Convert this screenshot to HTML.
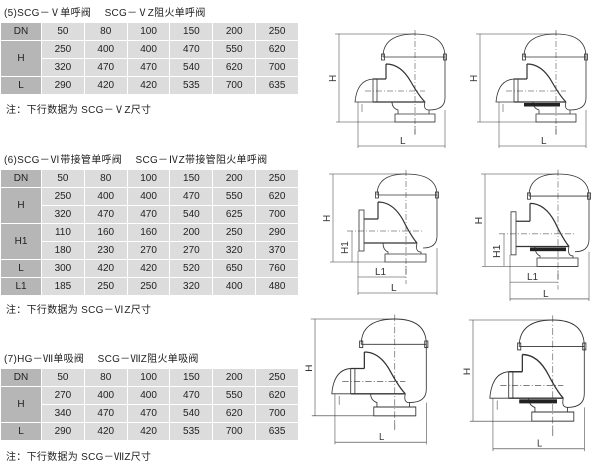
<!DOCTYPE html>
<html><head><meta charset="utf-8"><style>
body{margin:0;width:600px;height:463px;background:#fff;position:relative;overflow:hidden;font-family:"Liberation Sans","Noto Sans CJK SC",sans-serif;color:#222}
.t{position:absolute;font-size:10px;white-space:nowrap;letter-spacing:0.3px}
table{position:absolute;left:0;border-collapse:collapse;width:299px;table-layout:fixed;font-size:10px}
tr{height:18px}
td{background:#dcdcdc;border:1.5px solid #fff;text-align:center;padding:0;line-height:14px}
td.h{background:#b6b6b6}
col.a{width:41px}
svg{position:absolute;left:0;top:0}
</style></head><body>
<div class="t" style="left:4px;top:4px">(5)SCG－Ⅴ单呼阀　 SCG－ⅤZ阻火单呼阀</div>
<table style="top:22px"><col class="a"><col><col><col><col><col><col>
<tr><td class="h">DN</td><td>50</td><td>80</td><td>100</td><td>150</td><td>200</td><td>250</td></tr>
<tr><td class="h" rowspan="2">H</td><td>250</td><td>400</td><td>400</td><td>470</td><td>550</td><td>620</td></tr>
<tr><td>320</td><td>470</td><td>470</td><td>540</td><td>620</td><td>700</td></tr>
<tr><td class="h">L</td><td>290</td><td>420</td><td>420</td><td>535</td><td>700</td><td>635</td></tr></table>
<div class="t" style="left:6px;top:101px">注：下行数据为 SCG－ⅤZ尺寸</div>

<div class="t" style="left:4px;top:151px">(6)SCG－Ⅵ带接管单呼阀　 SCG－ⅣZ带接管阻火单呼阀</div>
<table style="top:169px"><col class="a"><col><col><col><col><col><col>
<tr><td class="h">DN</td><td>50</td><td>80</td><td>100</td><td>150</td><td>200</td><td>250</td></tr>
<tr><td class="h" rowspan="2">H</td><td>250</td><td>400</td><td>400</td><td>470</td><td>550</td><td>620</td></tr>
<tr><td>320</td><td>470</td><td>470</td><td>540</td><td>625</td><td>700</td></tr>
<tr><td class="h" rowspan="2">H1</td><td>110</td><td>160</td><td>160</td><td>200</td><td>250</td><td>290</td></tr>
<tr><td>180</td><td>230</td><td>270</td><td>270</td><td>320</td><td>370</td></tr>
<tr><td class="h">L</td><td>300</td><td>420</td><td>420</td><td>520</td><td>650</td><td>760</td></tr>
<tr><td class="h">L1</td><td>185</td><td>250</td><td>250</td><td>320</td><td>400</td><td>480</td></tr></table>
<div class="t" style="left:6px;top:301px">注：下行数据为 SCG－ⅥZ尺寸</div>

<div class="t" style="left:4px;top:350px">(7)HG－Ⅶ单吸阀　 SCG－ⅦZ阻火单吸阀</div>
<table style="top:368px"><col class="a"><col><col><col><col><col><col>
<tr><td class="h">DN</td><td>50</td><td>80</td><td>100</td><td>150</td><td>200</td><td>250</td></tr>
<tr><td class="h" rowspan="2">H</td><td>270</td><td>400</td><td>400</td><td>470</td><td>550</td><td>620</td></tr>
<tr><td>340</td><td>470</td><td>470</td><td>540</td><td>620</td><td>700</td></tr>
<tr><td class="h">L</td><td>290</td><td>420</td><td>420</td><td>535</td><td>700</td><td>635</td></tr></table>
<div class="t" style="left:6px;top:448px">注：下行数据为 SCG－ⅦZ尺寸</div>

<svg width="600" height="463" viewBox="0 0 600 463">
<defs>
<g id="A" fill="none" stroke="#333" stroke-width="0.8">
<path d="M-4,0H77M0,0V88M-3,88H96" stroke-width="0.5"/>
<path d="M44,23Q44,0 76,0Q106,0 106,23M44,23H106"/>
<rect x="42.5" y="20" width="3" height="6"/><rect x="104.5" y="20" width="3" height="6"/>
<path d="M106,23V64Q106,76 90,76"/>
<path d="M47,30V45M47,30Q62,30 72,48Q80,62 86,68" stroke-width="1.2"/>
<path d="M34,45H47M34,68H86" stroke-width="1.2"/>
<path d="M34,45Q18,46 16,68H34M34,45V68M38,45V68"/>
<path d="M53,68Q53,74 59,76V80M86,68Q84,76 90,76V80M56,80H96V88H56Z"/>
<path d="M76,-4V101M26,57H86" stroke-dasharray="6,2,1,2" stroke-width="0.5"/>
<path d="M19,68V114M106,76V114M19,112H106M23,70V78M76,92V100" stroke-width="0.5"/>
</g>
<g id="B" fill="none" stroke="#333" stroke-width="0.8">
<path d="M-4,0H73M0,0V88M-3,88H52" stroke-width="0.5"/>
<path d="M44,21Q44,0 73,0Q104,0 104,21M44,21H104"/>
<rect x="42.5" y="18" width="3" height="6"/><rect x="102.5" y="18" width="3" height="6"/>
<path d="M104,21V62Q104,74 90,74"/>
<path d="M45,28V45M45,28Q60,28 70,46Q78,62 84,69" stroke-width="1.2"/>
<path d="M31,45H45M31,69H84" stroke-width="1.2"/>
<rect x="26" y="36" width="5" height="41"/>
<path d="M50,69Q50,76 55,78V80M84,69Q82,78 88,78V80M52,80H93V88H52Z"/>
<path d="M73,-4V110M14,57H90" stroke-dasharray="6,2,1,2" stroke-width="0.5"/>
<path d="M19,57V88M25,77V121M104,74V121M25,103H73M25,119H104M73,92V100" stroke-width="0.5"/>
</g>
</defs>
<g transform="translate(339,34)"><use href="#A"/>
<text x="61" y="110" font-size="10" font-family="Liberation Sans" fill="#333">L</text>
<text transform="translate(-3,48) rotate(-90)" font-size="10" font-family="Liberation Sans" fill="#333">H</text></g>
<g transform="translate(480,34)"><use href="#A"/><rect x="44" y="69" width="36" height="3.5" fill="#222"/>
<text x="61" y="110" font-size="10" font-family="Liberation Sans" fill="#333">L</text>
<text transform="translate(-3,48) rotate(-90)" font-size="10" font-family="Liberation Sans" fill="#333">H</text></g>
<g transform="translate(333,174)"><use href="#B"/>
<text x="42" y="101" font-size="10" font-family="Liberation Sans" fill="#333">L1</text>
<text x="58" y="117" font-size="10" font-family="Liberation Sans" fill="#333">L</text>
<text transform="translate(-3,48) rotate(-90)" font-size="10" font-family="Liberation Sans" fill="#333">H</text>
<text transform="translate(15,80) rotate(-90)" font-size="10" font-family="Liberation Sans" fill="#333">H1</text></g>
<g transform="translate(485,174) scale(1,1.05)"><use href="#B"/><rect x="45" y="70" width="36" height="3.5" fill="#222"/>
<text x="42" y="101" font-size="10" font-family="Liberation Sans" fill="#333">L1</text>
<text x="58" y="117" font-size="10" font-family="Liberation Sans" fill="#333">L</text>
<text transform="translate(-3,48) rotate(-90)" font-size="10" font-family="Liberation Sans" fill="#333">H</text>
<text transform="translate(15,80) rotate(-90)" font-size="10" font-family="Liberation Sans" fill="#333">H1</text></g>
<g transform="translate(315,319) scale(1.05,1.1)"><use href="#A"/>
<text x="61" y="110" font-size="9" font-family="Liberation Sans" fill="#333">L</text>
<text transform="translate(-3,48) rotate(-90)" font-size="9" font-family="Liberation Sans" fill="#333">H</text></g>
<g transform="translate(473,320) scale(1.05,1.15)"><use href="#A"/><rect x="44" y="69" width="36" height="3.5" fill="#222"/>
<text x="61" y="110" font-size="9" font-family="Liberation Sans" fill="#333">L</text>
<text transform="translate(-3,48) rotate(-90)" font-size="9" font-family="Liberation Sans" fill="#333">H</text></g>
</svg>
</body></html>
